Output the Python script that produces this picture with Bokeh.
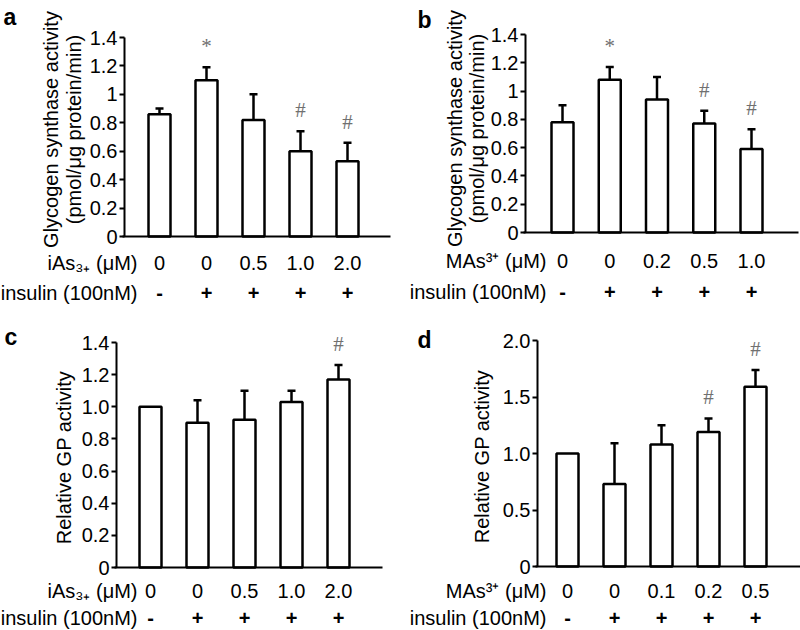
from bokeh.plotting import figure
from bokeh.layouts import column, row
from bokeh.models import ColumnDataSource, Whisker, TeeHead, FixedTicker, Range1d
from bokeh.core.properties import value
from bokeh.embed import file_html
from bokeh.resources import INLINE
import math

# ---------------- data ----------------
a_dose = ["0", "0", "0.5", "1.0", "2.0"]
a_insulin = ["-", "+", "+", "+", "+"]
a_mean = [0.86, 1.10, 0.82, 0.60, 0.53]
a_err = [0.04, 0.09, 0.18, 0.14, 0.13]
a_sig = ["", "*", "", "#", "#"]

b_dose = ["0", "0", "0.2", "0.5", "1.0"]
b_insulin = ["-", "+", "+", "+", "+"]
b_mean = [0.78, 1.08, 0.94, 0.77, 0.59]
b_err = [0.12, 0.09, 0.16, 0.09, 0.14]
b_sig = ["", "*", "", "#", "#"]

c_dose = ["0", "0", "0.5", "1.0", "2.0"]
c_insulin = ["-", "+", "+", "+", "+"]
c_mean = [1.00, 0.90, 0.92, 1.03, 1.17]
c_err = [0.0, 0.14, 0.18, 0.07, 0.09]
c_sig = ["", "", "", "", "#"]

d_dose = ["0", "0", "0.1", "0.2", "0.5"]
d_insulin = ["-", "+", "+", "+", "+"]
d_mean = [1.00, 0.73, 1.08, 1.19, 1.59]
d_err = [0.0, 0.36, 0.17, 0.12, 0.15]
d_sig = ["", "", "", "#", "#"]

gs_ticks = [0, 0.2, 0.4, 0.6, 0.8, 1.0, 1.2, 1.4]
gs_tick_labels = ["0", "0.2", "0.4", "0.6", "0.8", "1", "1.2", "1.4"]
c_tick_labels = ["0", "0.2", "0.4", "0.6", "0.8", "1.0", "1.2", "1.4"]
d_ticks = [0, 0.5, 1.0, 1.5, 2.0]
d_tick_labels = ["0", "0.5", "1.0", "1.5", "2.0"]

gs_label = ["Glycogen synthase activity", "(pmol/\u03bcg protein/min)"]
gp_label = ["Relative GP activity"]
ias_header = "iAs\u2083\u208a (\u03bcM)"
mas_header = "MAs\u00b3\u207a (\u03bcM)"
insulin_header = "insulin (100nM)"

FONT = "Liberation Sans"


def panel(letter, dose, insulin, mean, err, sig, ticks, tick_labels, ymax,
          ylabel, header, lay):
    W, H = 400, 315
    ax, ft, fb, right = lay["axis"], lay["top"], lay["bottom"], lay["right"]
    ppu = lay["step"]
    x0 = 1 - lay["bar1"] / ppu
    ppy = (fb - ft) / ymax

    def X(px):
        return x0 + px / ppu

    def Y(py):
        return (fb - py) / ppy

    p = figure(width=W, height=H, output_backend="svg", toolbar_location=None,
               title=None,
               x_range=Range1d(X(0), X(W)), y_range=Range1d(Y(H), Y(0)),
               min_border_left=0, min_border_right=0,
               min_border_top=0, min_border_bottom=0)
    p.outline_line_color = None
    p.xgrid.visible = False
    p.ygrid.visible = False
    p.background_fill_color = "white"
    p.border_fill_color = "white"

    xs = list(range(1, len(mean) + 1))
    src = ColumnDataSource(dict(x=xs, mean=mean))
    p.vbar(x="x", top="mean", bottom=0, width=22 / ppu, source=src,
           fill_color="white", line_color="black", line_width=2.5)

    ex = [x for x, e in zip(xs, err) if e > 0]
    lo = [m for m, e in zip(mean, err) if e > 0]
    up = [m + e for m, e in zip(mean, err) if e > 0]
    esrc = ColumnDataSource(dict(x=ex, lower=lo, upper=up))
    p.add_layout(Whisker(source=esrc, base="x", lower="lower", upper="upper",
                         dimension="height", line_color="black", line_width=2.5,
                         upper_head=TeeHead(size=8, line_width=2.5, line_color="black"),
                         lower_head=None))

    sx = [x for x, s in zip(xs, sig) if s]
    sy = [m + e for m, e, s in zip(mean, err, sig) if s]
    st = [s for s in sig if s]
    p.text(x=sx, y=sy, text=st, y_offset=-21, text_align="center",
           text_baseline="middle", text_font=value("Liberation Serif"),
           text_font_size="21px", text_color="#707070")

    # y axis drawn at a fixed position
    ya = p.yaxis[0]
    ya.fixed_location = X(ax)
    ya.bounds = (0, ymax)
    ya.ticker = FixedTicker(ticks=ticks)
    ya.major_label_overrides = {t: l for t, l in zip(ticks, tick_labels)}
    ya.axis_line_width = 2
    ya.axis_line_color = "black"
    ya.major_tick_in = 0
    ya.major_tick_out = 5
    ya.major_tick_line_width = 2
    ya.minor_tick_in = 0
    ya.minor_tick_out = 0
    ya.major_label_standoff = 2
    ya.major_label_text_font = FONT
    ya.major_label_text_font_size = "20px"
    ya.major_label_text_color = "black"

    # x axis: a line at y = 0
    xa = p.xaxis[0]
    xa.fixed_location = 0
    xa.bounds = (X(ax - 2), X(right))
    xa.ticker = FixedTicker(ticks=[])
    xa.axis_line_width = 2
    xa.axis_line_color = "black"
    xa.major_tick_in = 0
    xa.major_tick_out = 0
    xa.minor_tick_in = 0
    xa.minor_tick_out = 0
    xa.major_label_text_font_size = "0px"

    # y axis title (rotated text lines)
    lx = [X(px) for px in lay["ylab_x"]]
    ly = [Y(lay["ylab_y"])] * len(ylabel)
    p.text(x=lx, y=ly, text=ylabel, angle=math.pi / 2, text_align="center",
           text_baseline="middle", text_font=value(FONT), text_font_size="20px",
           text_color="black")

    # category rows
    r1, r2 = Y(lay["rows"][0]), Y(lay["rows"][1])
    fs = lay["row_fs"]
    p.text(x=xs, y=[r1] * len(xs), text=dose, text_align="center",
           text_baseline="middle", text_font=value(FONT), text_font_size=fs,
           text_color="black")
    p.text(x=xs, y=[r2] * len(xs), text=insulin, text_align="center",
           text_baseline="middle", text_font=value(FONT), text_font_size=fs,
           text_color="black", text_font_style="bold")
    p.text(x=[X(lay["hdr"])] * 2, y=[r1, r2], text=[header, insulin_header],
           text_align="right", text_baseline="middle", text_font=value(FONT),
           text_font_size=fs, text_color="black")

    # panel letter
    p.text(x=[X(lay["letter"][0])], y=[Y(lay["letter"][1])], text=[letter],
           text_align="left", text_baseline="alphabetic", text_font=value(FONT),
           text_font_size="23px", text_font_style="bold", text_color="black")
    return p


lay_a = dict(axis=124, top=37, bottom=236, right=390, bar1=159, step=47,
             ylab_x=[50, 73], ylab_y=129, rows=(262, 292), hdr=137, row_fs="20px",
             letter=(3, 16))
lay_b = dict(axis=125, top=34, bottom=232, right=398, bar1=162, step=47.25,
             ylab_x=[54, 76], ylab_y=128, rows=(260, 291), hdr=146, row_fs="20px",
             letter=(17, 19))
lay_c = dict(axis=116, top=27, bottom=252, right=382, bar1=150, step=47,
             ylab_x=[63], ylab_y=142, rows=(275, 302), hdr=137, row_fs="20px",
             letter=(4, 21))
lay_d = dict(axis=137, top=25, bottom=251, right=400, bar1=167, step=47,
             ylab_x=[81], ylab_y=141, rows=(275, 302), hdr=146, row_fs="20px",
             letter=(17, 24))

pa = panel("a", a_dose, a_insulin, a_mean, a_err, a_sig, gs_ticks, gs_tick_labels, 1.4,
           gs_label, ias_header, lay_a)
pb = panel("b", b_dose, b_insulin, b_mean, b_err, b_sig, gs_ticks, gs_tick_labels, 1.4,
           gs_label, mas_header, lay_b)
pc = panel("c", c_dose, c_insulin, c_mean, c_err, c_sig, gs_ticks, c_tick_labels, 1.4,
           gp_label, ias_header, lay_c)
pd = panel("d", d_dose, d_insulin, d_mean, d_err, d_sig, d_ticks, d_tick_labels, 2.0,
           gp_label, mas_header, lay_d)

layout = column(row(pa, pb, spacing=0), row(pc, pd, spacing=0), spacing=0)

open("out.html", "w").write(file_html(layout, INLINE))
